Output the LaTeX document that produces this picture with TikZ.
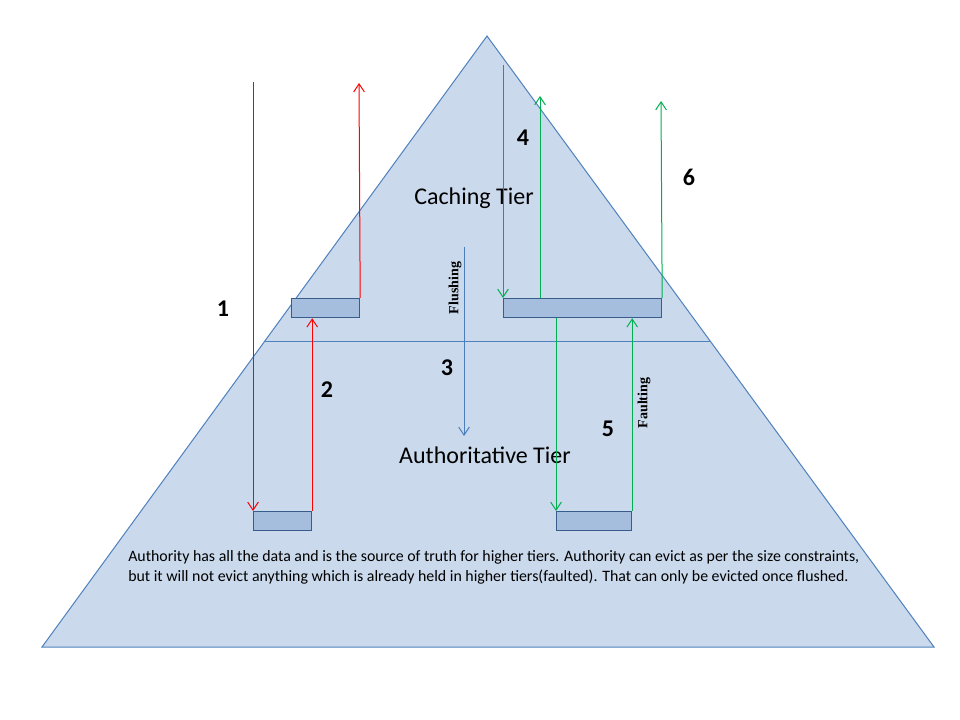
\documentclass[tikz,border=0pt]{standalone}
\usepackage{fontspec}
\setmainfont{Carlito}
\newfontfamily\labelfont{Liberation Serif}
\usetikzlibrary{arrows.meta}
\definecolor{tierfill}{RGB}{202,217,236}
\definecolor{tierline}{RGB}{79,129,189}
\definecolor{boxfill}{RGB}{166,190,222}
\definecolor{boxline}{RGB}{56,93,138}
\definecolor{evictred}{RGB}{255,0,0}
\definecolor{faultgreen}{RGB}{0,176,80}
\definecolor{flushblue}{RGB}{74,126,187}
\begin{document}
\begin{tikzpicture}[x=0.75pt, y=-0.75pt,
        entry/.style={draw=boxline, fill=boxfill, line width=0.9pt, inner sep=0pt,
            anchor=north west, minimum height=14.25pt},
        flow/.style={line width=0.75pt, -{Straight Barb[length=6pt, width=8pt]}},
        stepnum/.style={font=\bfseries\fontsize{18}{22}\selectfont},
        tiername/.style={font=\fontsize{18}{22}\selectfont},
        actname/.style={font=\labelfont\bfseries\fontsize{10.5}{12}\selectfont, rotate=90}
    ]
        \useasboundingbox (0,0) rectangle (960,720);
        \coordinate (apex) at (487,36);
        \coordinate (baseleft) at (42,647);
        \coordinate (baseright) at (934,647);
        \draw[tierline, fill=tierfill, line width=0.75pt] (apex) -- (baseright) -- (baseleft) -- cycle;
        \draw[tierline, line width=0.75pt] (265,341) -- (710,341);

        \node[entry, minimum width=51pt] (cl) at (291,298) {};
        \node[entry, minimum width=118.5pt] (cr) at (503,298) {};
        \node[entry, minimum width=43.5pt] (al) at (253,511) {};
        \node[entry, minimum width=56.25pt] (ar) at (556,511) {};

        \coordinate (req) at (253,82);
        \coordinate (evict) at (359,83);
        \coordinate (get) at (503,65);
        \coordinate (hit) at (540,96);
        \coordinate (put) at (661,101);
        \coordinate (flushtop) at (464,247);
        \coordinate (flushend) at (464,436);

        \node[tiername] (caching) at (474,198) {Caching Tier};
        \node[tiername] (authority) at (485,455) {Authoritative Tier};

        \draw[flow, evictred] (req) -- (al.north west);
        \draw[flow, evictred] (al.north east) -- (al.north east |- cl.south);
        \draw[flow, evictred] (cl.north east) -- (evict);
        \draw[flow, faultgreen] (get) -- (cr.north west);
        \draw[flow, faultgreen] (hit |- cr.north) -- (hit);
        \draw[flow, faultgreen] (cr.north east) -- (put);
        \draw[flow, faultgreen] (ar.north west |- cr.south) -- (ar.north west);
        \draw[flow, faultgreen] (ar.north east) -- (ar.north east |- cr.south);
        \draw[flow, flushblue] (flushtop) -- (flushend);

        \node[stepnum] (n1) at (223,309) {1};
        \node[stepnum] (n2) at (327,390) {2};
        \node[stepnum] (n3) at (447,368) {3};
        \node[stepnum] (n4) at (523,138) {4};
        \node[stepnum] (n5) at (608,429) {5};
        \node[stepnum] (n6) at (689,177) {6};

        \node[actname] (flushing) at (455,288) {Flushing};
        \node[actname] (faulting) at (644,403) {Faulting};

        \node[anchor=north west, align=left, inner sep=0pt,
            font=\fontsize{11.9}{15}\selectfont] (note) at (128,550)
            {Authority\ has all the data and is the source of truth\ for higher tiers. Authority\ can evict as per the size constraints,\\
            but\ it will not evict anything which is already held in higher tiers(faulted). That can only be evicted once flushed.};
    \end{tikzpicture}
\end{document}
